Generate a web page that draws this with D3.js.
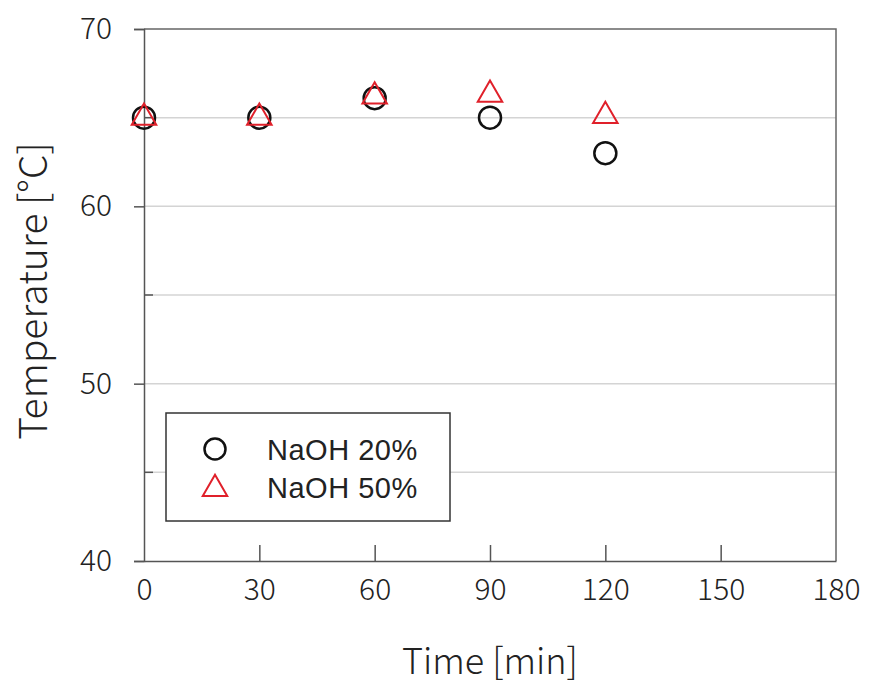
<!DOCTYPE html>
<html>
<head>
<meta charset="utf-8">
<script src="https://cdnjs.cloudflare.com/ajax/libs/d3/7.8.5/d3.min.js"></script>
<style>
  body { margin: 0; background: #fff; }
  text { font-family: "Noto Sans CJK KR", "Open Sans", sans-serif; fill: #222; }
</style>
</head>
<body>
<div id="chart"></div>
<script>
// data
var times = [0, 30, 60, 90, 120];
var naoh20 = [65, 65, 66.1, 65, 63];
var naoh50 = [65, 65, 66.2, 66.3, 65.1];
var seriesNames = ["NaOH 20%", "NaOH 50%"];
var xTicks = [0, 30, 60, 90, 120, 150, 180];
var yTicks = [40, 50, 60, 70];
var yMinor = [45, 55, 65];

var width = 877, height = 691;
var margin = {left: 144, right: 40, top: 29, bottom: 130};

var svg = d3.select("#chart").append("svg")
    .attr("width", width)
    .attr("height", height);

var x = d3.scaleLinear().domain([0, 180]).range([margin.left, width - margin.right - 1]);
var y = d3.scaleLinear().domain([40, 70]).range([height - margin.bottom, margin.top]);

// gridlines
svg.append("g")
    .selectAll("line")
    .data(yMinor.concat([50, 60]))
    .enter().append("line")
    .attr("x1", x(0)).attr("x2", x(180))
    .attr("y1", function(d) { return y(d); })
    .attr("y2", function(d) { return y(d); })
    .attr("stroke", "#d4d4d4")
    .attr("stroke-width", 1.5);

// frame top and right
svg.append("path")
    .attr("d", "M" + x(0) + "," + y(70) + "H" + x(180) + "V" + y(40))
    .attr("fill", "none")
    .attr("stroke", "#666")
    .attr("stroke-width", 1.5);

// y axis: major ticks outward, minor ticks inward
var yAxis = svg.append("g")
    .attr("transform", "translate(" + x(0) + ",0)")
    .call(d3.axisLeft(y).tickValues(yTicks).tickSize(10).tickPadding(22));
yAxis.select(".domain").attr("stroke", "#555").attr("stroke-width", 1.5);
yAxis.selectAll(".tick line").attr("stroke", "#555").attr("stroke-width", 1.5);
yAxis.selectAll(".tick text").attr("font-size", 30).attr("font-weight", 300).style("fill", "#222");
svg.append("g")
    .selectAll("line")
    .data(yMinor)
    .enter().append("line")
    .attr("x1", x(0)).attr("x2", x(0) + 9)
    .attr("y1", function(d) { return y(d); })
    .attr("y2", function(d) { return y(d); })
    .attr("stroke", "#555")
    .attr("stroke-width", 1.5);

// x axis: ticks inward
var xAxis = svg.append("g")
    .attr("transform", "translate(0," + y(40) + ")")
    .call(d3.axisBottom(x).tickValues(xTicks).tickSizeInner(-16).tickSizeOuter(0).tickPadding(12));
xAxis.select(".domain").attr("stroke", "#555").attr("stroke-width", 1.5);
xAxis.selectAll(".tick line")
    .attr("stroke", "#555")
    .attr("stroke-width", 1.5)
    .attr("display", function(d) { return (d === 0 || d === 180) ? "none" : null; });
xAxis.selectAll(".tick text").attr("font-size", 30).attr("font-weight", 300)
    .attr("dy", "0.9em").style("fill", "#222");

// axis titles
svg.append("text")
    .attr("transform", "translate(47," + ((y(40) + y(70)) / 2 - 4) + ") rotate(-90)")
    .attr("text-anchor", "middle")
    .attr("font-size", 39)
    .attr("font-weight", 300)
    .text("Temperature [°C]");
svg.append("text")
    .attr("x", 490)
    .attr("y", 674)
    .attr("text-anchor", "middle")
    .attr("font-size", 36)
    .attr("font-weight", 300)
    .text("Time [min]");

var circleR = 11;
var tri = d3.symbol().type(d3.symbolTriangle).size(260);

// NaOH 20% circles
svg.append("g")
    .selectAll("circle")
    .data(times)
    .enter().append("circle")
    .attr("cx", function(d) { return x(d); })
    .attr("cy", function(d, i) { return y(naoh20[i]); })
    .attr("r", circleR)
    .attr("fill", "none")
    .attr("stroke", "#111")
    .attr("stroke-width", 2.5);

// NaOH 50% triangles
svg.append("g")
    .selectAll("path")
    .data(times)
    .enter().append("path")
    .attr("d", tri)
    .attr("transform", function(d, i) { return "translate(" + x(d) + "," + y(naoh50[i]) + ")"; })
    .attr("fill", "none")
    .attr("stroke", "#e0202a")
    .attr("stroke-width", 2);

// legend
var legend = svg.append("g");
legend.append("rect")
    .attr("x", 166).attr("y", 413)
    .attr("width", 284).attr("height", 108)
    .attr("fill", "#fff")
    .attr("stroke", "#333")
    .attr("stroke-width", 1.5);
legend.append("circle")
    .attr("cx", 215).attr("cy", 449).attr("r", 10.5)
    .attr("fill", "none").attr("stroke", "#111").attr("stroke-width", 2.5);
legend.append("path")
    .attr("d", tri)
    .attr("transform", "translate(215,489)")
    .attr("fill", "none").attr("stroke", "#e0202a").attr("stroke-width", 2);
legend.selectAll("text.lab")
    .data(seriesNames)
    .enter().append("text")
    .attr("class", "lab")
    .attr("x", 267)
    .attr("y", function(d, i) { return 450 + i * 38; })
    .attr("dy", "0.35em")
    .style("font-family", "'Liberation Sans', Arial, sans-serif")
    .attr("font-size", 29)
    .attr("letter-spacing", 0.5)
    .text(function(d) { return d; });
</script>
</body>
</html>
